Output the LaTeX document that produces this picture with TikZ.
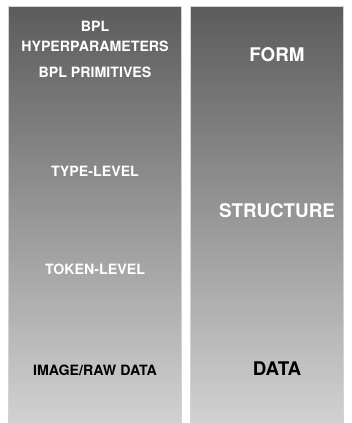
\documentclass[tikz,border=0pt]{standalone}
\usepackage{fontspec}
\setmainfont{TeX Gyre Heros}
\begin{document}
\begin{tikzpicture}[x=1pt,y=-1pt,
  panel/.style={draw=gray!35, line width=0.8pt, top color=black!64, bottom color=black!18},
  small/.style={font=\fontsize{14.2}{16}\selectfont\bfseries, inner sep=0pt, anchor=center},
  big/.style={font=\fontsize{18.8}{21}\selectfont\bfseries, inner sep=0pt, anchor=center}]
\useasboundingbox (0,0) rectangle (351,423);
\fill[white] (0,0) rectangle (351,423);
% two shaded columns
\shade[panel] (8.5,6.5) rectangle (181,422.5);
\shade[panel] (190.5,6.5) rectangle (343,422.5);
% left column labels
\node[small, white] (bpl) at (95,26) {BPL};
\node[small, white] (hyper) at (95,46) {HYPERPARAMETERS};
\node[small, white] (prim) at (95,72) {BPL PRIMITIVES};
\node[small, white] (type) at (95,171) {TYPE-LEVEL};
\node[small, white] (token) at (95,269) {TOKEN-LEVEL};
\node[small, black] (image) at (95,370) {IMAGE/RAW DATA};
% right column labels
\node[big, white] (form) at (277,55) {FORM};
\node[big, white] (structure) at (277,211) {STRUCTURE};
\node[big, black] (data) at (277,369) {DATA};
\end{tikzpicture}
\end{document}
